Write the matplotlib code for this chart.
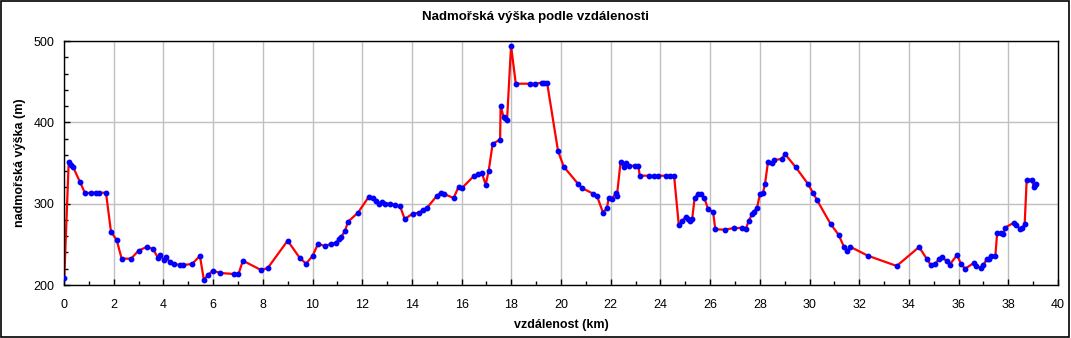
import matplotlib
matplotlib.use("Agg")
import matplotlib.pyplot as plt
from matplotlib.ticker import MultipleLocator

# vzdalenost (km) a nadmorska vyska (m)
dist = [0.01, 0.19, 0.27, 0.36, 0.64, 0.85, 1.07, 1.27, 1.40, 1.69,
        1.89, 2.12, 2.32, 2.70, 3.00, 3.34, 3.58, 3.78, 3.86, 4.02,
        4.10, 4.27, 4.43, 4.67, 4.79, 5.15, 5.47, 5.63, 5.79, 6.00,
        6.28, 6.84, 7.02, 7.20, 7.93, 8.20, 9.00, 9.48, 9.74, 10.00,
        10.22, 10.50, 10.73, 10.95, 11.05, 11.15, 11.31, 11.43, 11.83, 12.26,
        12.42, 12.54, 12.66, 12.80, 12.92, 13.12, 13.32, 13.52, 13.71, 14.03,
        14.29, 14.43, 14.61, 15.00, 15.16, 15.29, 15.68, 15.88, 16.03, 16.49,
        16.67, 16.81, 16.97, 17.09, 17.25, 17.55, 17.57, 17.69, 17.76, 17.83,
        17.99, 18.18, 18.74, 18.94, 19.24, 19.30, 19.44, 19.88, 20.11, 20.68,
        20.84, 21.29, 21.45, 21.69, 21.85, 21.92, 22.05, 22.21, 22.25, 22.40,
        22.52, 22.60, 22.74, 22.97, 23.11, 23.17, 23.54, 23.73, 23.89, 24.21,
        24.37, 24.55, 24.74, 24.87, 25.02, 25.11, 25.18, 25.28, 25.38, 25.50,
        25.65, 25.77, 25.92, 26.12, 26.21, 26.61, 26.95, 27.27, 27.43, 27.56,
        27.69, 27.75, 27.89, 28.01, 28.13, 28.21, 28.33, 28.49, 28.57, 28.88,
        29.01, 29.44, 29.93, 30.14, 30.30, 30.85, 31.17, 31.39, 31.52, 31.63,
        32.35, 33.51, 34.41, 34.73, 34.88, 35.05, 35.21, 35.33, 35.52, 35.64,
        35.94, 36.09, 36.26, 36.61, 36.72, 36.90, 37.00, 37.14, 37.24, 37.32,
        37.48, 37.55, 37.71, 37.80, 37.87, 38.22, 38.31, 38.47, 38.56, 38.66,
        38.74, 38.95, 39.02, 39.06, 39.13]
elev = [208, 351.6, 347, 345.5, 326.6, 312.7, 313.5, 313.5, 313.5, 313.5,
        265.6, 255.3, 232.4, 232.4, 242.2, 247, 244.3, 233.6, 236.9, 231,
        234, 228.3, 225.8, 224.6, 224.6, 225.8, 235.7, 206, 212.7, 217.6,
        214.8, 213.5, 213.5, 229.9, 218.4, 220.9, 254.5, 233.6, 226.2, 235.7,
        250.4, 248, 250.4, 252, 256.2, 259, 266.8, 277.8, 288.9, 308.2,
        307, 303.3, 300, 302.4, 300, 300, 298.7, 297.1, 281.1, 287.7,
        288.9, 292.2, 295, 309.4, 313.5, 311.9, 307, 320.9, 319.6, 334,
        336.1, 338.1, 323.3, 340.5, 373.7, 378.7, 420.5, 406.2, 405, 403.3,
        494.2, 447.5, 447.5, 447.5, 448.8, 448.8, 448.8, 364.8, 345.5, 324.6,
        319.3, 312.3, 309.4, 288.9, 295, 307, 305.7, 313.5, 309.8, 351.6,
        345.5, 350.4, 346.7, 346.7, 346.7, 334.4, 334.4, 334.4, 334.4, 334.4,
        334.4, 334.4, 273.8, 278.7, 283.6, 281.5, 279, 281.5, 307.4, 311.5,
        311.5, 306.6, 293.4, 289.8, 268.5, 268, 270.1, 270.1, 268.9, 279,
        287.3, 290.1, 295, 312.3, 313.5, 324.6, 351.2, 349.6, 353.7, 354.9,
        361.1, 345.1, 324.6, 313.5, 304.5, 275, 261.8, 246.7, 242.2, 247.1,
        236, 223.4, 246.7, 231.6, 224.6, 226.2, 231.6, 234.8, 229.1, 225,
        236.9, 226.2, 220, 227, 223.4, 220.9, 225, 232, 232, 235.7,
        236, 263.6, 264.3, 262.7, 270.5, 276.6, 273.8, 269.2, 270.1, 275.4,
        329.5, 329.5, 320.5, 323, 324.6]

plt.rcParams['font.family'] = ['Liberation Sans', 'DejaVu Sans']

fig = plt.figure(figsize=(10.71, 3.38), dpi=100)
ax = fig.add_axes([64/1071, 1 - 285/338, 994/1071, 244/338])

ax.plot(dist, elev, color='#ff0000', lw=1.6, zorder=2)
ax.plot(dist, elev, ls='none', marker='o', ms=3.2, mfc='#0000ff', mec='#0000ff', zorder=3)

ax.set_xlim(0, 40)
ax.set_ylim(200, 500)
ax.xaxis.set_major_locator(MultipleLocator(2))
ax.xaxis.set_minor_locator(MultipleLocator(1))
ax.yaxis.set_major_locator(MultipleLocator(100))
ax.yaxis.set_minor_locator(MultipleLocator(20))
ax.grid(True, which='major', color='#c0c0c0', lw=1)
ax.set_axisbelow(True)
ax.tick_params(which='both', direction='in', labelsize=9, color='black', width=1)
ax.tick_params(axis='y', which='major', length=4, pad=7)
ax.tick_params(axis='x', which='major', length=4, pad=10)
ax.tick_params(which='minor', length=3)
for s in ax.spines.values():
    s.set_linewidth(1)
    s.set_color('black')

ax.set_xlabel('vzdálenost (km)', fontsize=9, fontweight='bold', labelpad=6)
ax.set_ylabel('nadmořská výška (m)', fontsize=9, fontweight='bold', labelpad=5)
fig.text(0.5, 1 - 17/338, 'Nadmořská výška podle vzdálenosti', ha='center', va='center',
         fontsize=9.5, fontweight='bold')

# ramecek okolo celeho obrazku
fig.patches.append(plt.Rectangle((0.0005, 0.0015), 0.998, 0.996, transform=fig.transFigure,
                                 fill=False, edgecolor='black', lw=1.2))

fig.savefig('out.png', dpi=100)
